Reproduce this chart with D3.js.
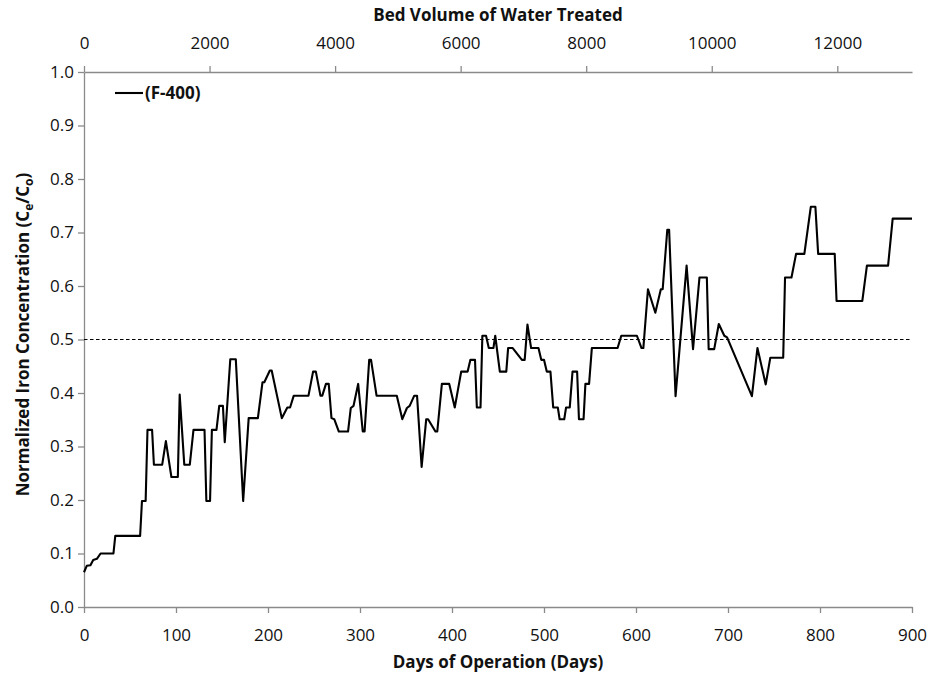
<!DOCTYPE html>
<html>
<head>
<meta charset="utf-8">
<script src="https://cdn.jsdelivr.net/npm/d3@7"></script>
<style>
  html, body { margin: 0; padding: 0; background: #fff; }
  svg text { font-family: "Open Sans", "Liberation Sans", sans-serif; fill: #111; }
</style>
</head>
<body>
<svg id="chart" width="932" height="678"></svg>
<script>
// Days of operation for each sample
const days = [
  0, 3, 7, 10, 14, 18, 32, 34, 61, 63, 67, 69, 74, 76, 85, 89, 95, 102, 104, 109,
  115, 119, 131, 133, 137, 139, 144, 147, 151, 153, 159, 165, 173, 179, 189, 194, 196, 202, 204, 215,
  221, 224, 228, 244, 249, 252, 257, 259, 263, 266, 269, 272, 277, 287, 290, 293, 298, 303, 305, 310,
  312, 318, 340, 346, 351, 354, 359, 362, 367, 372, 374, 382, 384, 389, 397, 403, 410, 417, 420, 425,
  427, 431, 433, 437, 440, 445, 447, 452, 459, 461, 466, 476, 479, 482, 486, 494, 497, 500, 503, 507,
  510, 515, 517, 522, 524, 528, 531, 536, 538, 543, 545, 549, 552, 580, 584, 601, 606, 608, 613, 621,
  627, 629, 634, 636, 643, 655, 662, 669, 677, 679, 685, 690, 696, 699, 726, 732, 741, 746, 760, 762,
  769, 774, 783, 790, 795, 798, 816, 818, 846, 851, 874, 879, 900
];

// Normalized effluent iron concentration Ce/Co for the F-400 column
const ratio = [
  0.065, 0.077, 0.078, 0.088, 0.090, 0.100, 0.100, 0.133, 0.133, 0.198, 0.198, 0.331, 0.331, 0.266, 0.266, 0.310, 0.243, 0.243, 0.397, 0.266,
  0.266, 0.331, 0.331, 0.198, 0.198, 0.331, 0.331, 0.376, 0.376, 0.308, 0.463, 0.463, 0.198, 0.353, 0.353, 0.420, 0.420, 0.442, 0.442, 0.353,
  0.373, 0.373, 0.395, 0.395, 0.440, 0.440, 0.395, 0.395, 0.417, 0.417, 0.353, 0.351, 0.328, 0.328, 0.372, 0.376, 0.417, 0.328, 0.328, 0.462,
  0.462, 0.395, 0.395, 0.351, 0.372, 0.376, 0.395, 0.395, 0.262, 0.351, 0.351, 0.328, 0.328, 0.417, 0.417, 0.373, 0.440, 0.440, 0.462, 0.462,
  0.373, 0.373, 0.507, 0.507, 0.484, 0.484, 0.507, 0.440, 0.440, 0.484, 0.484, 0.462, 0.462, 0.528, 0.484, 0.484, 0.462, 0.462, 0.440, 0.440,
  0.373, 0.373, 0.351, 0.351, 0.373, 0.373, 0.440, 0.440, 0.351, 0.351, 0.417, 0.417, 0.484, 0.484, 0.507, 0.507, 0.484, 0.484, 0.594, 0.550,
  0.594, 0.594, 0.705, 0.705, 0.394, 0.638, 0.482, 0.616, 0.616, 0.482, 0.482, 0.529, 0.507, 0.504, 0.394, 0.484, 0.416, 0.466, 0.466, 0.616,
  0.616, 0.660, 0.660, 0.748, 0.748, 0.660, 0.660, 0.572, 0.572, 0.638, 0.638, 0.726, 0.726
];

// Axis ticks
const dayTicks = [0, 100, 200, 300, 400, 500, 600, 700, 800, 900];
const bedVolumeTicks = [0, 2000, 4000, 6000, 8000, 10000, 12000];
const ratioTicks = [0, 0.1, 0.2, 0.3, 0.4, 0.5, 0.6, 0.7, 0.8, 0.9, 1.0];
const bedVolumeMax = 13190;   // bed volumes treated after 900 days
const threshold = 0.5;        // 50% breakthrough reference
const seriesName = "(F-400)";

const svg = d3.select("#chart");
const W = 932, H = 678;
const m = { top: 72, right: 20, bottom: 71, left: 84 };
const iw = W - m.left - m.right, ih = H - m.top - m.bottom;

const x = d3.scaleLinear().domain([0, 900]).range([m.left, m.left + iw]);
const xTop = d3.scaleLinear().domain([0, bedVolumeMax]).range([m.left, m.left + iw]);
const y = d3.scaleLinear().domain([0, 1]).range([m.top + ih, m.top]);

const axisColor = "#8a8a8a";
function styleAxis(g) {
  g.selectAll(".domain").attr("stroke", axisColor).attr("stroke-width", 1.3);
  g.selectAll(".tick line").attr("stroke", axisColor).attr("stroke-width", 1.3);
  g.selectAll(".tick text").attr("font-size", 17).attr("fill", "#111");
}

// Bottom axis: days
svg.append("g")
  .attr("transform", `translate(0,${m.top + ih})`)
  .call(d3.axisBottom(x).tickValues(dayTicks).tickSize(6).tickSizeOuter(0).tickPadding(16).tickFormat(d3.format("d")))
  .call(styleAxis);

// Top axis: bed volumes
svg.append("g")
  .attr("transform", `translate(0,${m.top})`)
  .call(d3.axisTop(xTop).tickValues(bedVolumeTicks).tickSize(6).tickSizeOuter(0).tickPadding(17).tickFormat(d3.format("d")))
  .call(styleAxis);

// Left axis: Ce/Co
svg.append("g")
  .attr("transform", `translate(${m.left},0)`)
  .call(d3.axisLeft(y).tickValues(ratioTicks).tickSize(6).tickSizeOuter(0).tickPadding(4).tickFormat(d3.format(".1f")))
  .call(styleAxis);

// 0.5 reference line
svg.append("line")
  .attr("x1", x(0)).attr("x2", x(900))
  .attr("y1", y(threshold)).attr("y2", y(threshold))
  .attr("stroke", "#000").attr("stroke-width", 1)
  .attr("stroke-dasharray", "3.5,2.5");

// Breakthrough curve
const pts = days.map((d, i) => [d, ratio[i]]);
svg.append("path")
  .datum(pts)
  .attr("fill", "none")
  .attr("stroke", "#000")
  .attr("stroke-width", 2.1)
  .attr("stroke-linejoin", "round")
  .attr("d", d3.line().x(d => x(d[0])).y(d => y(d[1])));

// Legend
const lg = svg.append("g").attr("transform", "translate(115,93)");
lg.append("line").attr("x1", 0).attr("x2", 28).attr("y1", 0).attr("y2", 0)
  .attr("stroke", "#000").attr("stroke-width", 2.1);
lg.append("text").attr("x", 30).attr("y", 0).attr("dy", "0.35em")
  .attr("font-size", 17).attr("font-weight", "bold").text(seriesName);

// Axis titles
svg.append("text")
  .attr("x", x(450)).attr("y", 662).attr("dy", "0.35em")
  .attr("text-anchor", "middle").attr("font-size", 17).attr("font-weight", "bold")
  .text("Days of Operation (Days)");

svg.append("text")
  .attr("x", x(450)).attr("y", 15).attr("dy", "0.35em")
  .attr("text-anchor", "middle").attr("font-size", 17).attr("font-weight", "bold")
  .text("Bed Volume of Water Treated");

const yt = svg.append("text")
  .attr("transform", `translate(23,${y(0.5) - 5}) rotate(-90)`)
  .attr("dy", "0.35em")
  .attr("text-anchor", "middle").attr("font-size", 17).attr("font-weight", "bold");
yt.append("tspan").text("Normalized Iron Concentration (C");
yt.append("tspan").attr("font-size", 12).attr("dy", 4).text("e");
yt.append("tspan").attr("dy", -4).text("/C");
yt.append("tspan").attr("font-size", 12).attr("dy", 4).text("o");
yt.append("tspan").attr("dy", -4).text(")");
</script>
</body>
</html>
